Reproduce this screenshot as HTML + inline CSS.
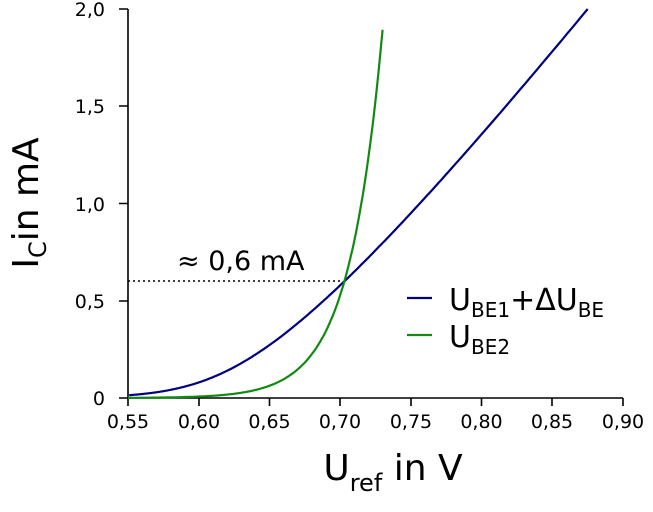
<!DOCTYPE html>
<html><head><meta charset="utf-8"><style>
body{margin:0;background:#fff;}
svg{display:block;font-family:"DejaVu Sans","Liberation Sans",sans-serif;}
</style></head><body>
<svg id="s" width="653" height="512" viewBox="0 0 653 512">
<g stroke="#000" stroke-width="1.6" fill="none">
<path d="M128,9 V398 H623"/>
<path d="M119,9H128M119,106H128M119,203.5H128M119,301H128M119,398H128"/>
<path d="M128,398v8M199,398v8M269.5,398v8M340,398v8M411,398v8M481.5,398v8M552,398v8M623,398v8"/>
</g>
<g font-size="19" text-anchor="end" fill="#000">
<text x="105" y="16">2,0</text><text x="105" y="113">1,5</text><text x="105" y="211">1,0</text><text x="105" y="308">0,5</text><text x="105" y="405">0</text>
</g>
<g font-size="19" text-anchor="middle" fill="#000">
<text x="128" y="428">0,55</text><text x="199" y="428">0,60</text><text x="269.5" y="428">0,65</text><text x="340" y="428">0,70</text><text x="411" y="428">0,75</text><text x="481.5" y="428">0,80</text><text x="552" y="428">0,85</text><text x="623" y="428">0,90</text>
</g>
<line x1="128" y1="281" x2="341" y2="281" stroke="#000" stroke-width="1.5" stroke-dasharray="2,3"/>
<text x="177" y="270" font-size="27">≈ 0,6 mA</text>
<path id="b" fill="none" stroke="#000080" stroke-width="2.2"/>
<path id="g" fill="none" stroke="#128a12" stroke-width="2.2"/>
<line x1="407" y1="298" x2="432" y2="298" stroke="#000080" stroke-width="2.2"/>
<line x1="407" y1="335" x2="432" y2="335" stroke="#128a12" stroke-width="2.2"/>
<text x="449" y="310" font-size="30">U<tspan font-size="20" dy="7">BE1</tspan><tspan dy="-7">+ΔU</tspan><tspan font-size="20" dy="7">BE</tspan></text>
<text x="449" y="347" font-size="30">U<tspan font-size="20" dy="7">BE2</tspan></text>
<text transform="translate(38,203) rotate(-90)" font-size="36" text-anchor="middle">I<tspan font-size="24" dy="8">C</tspan><tspan dy="-8">in mA</tspan></text>
<text x="393" y="480" font-size="36" text-anchor="middle">U<tspan font-size="24" dy="11">ref</tspan><tspan dy="-11"> in V</tspan></text>
</svg>
<script>
function px(v){return 128+(v-0.55)/0.05*70.71;}
function py(I){return 398-I*194.5;}
var d="";
for(var k=0;k<=300;k++){var I=0.0145*Math.pow(2/0.0145,k/300);var v=0.6548+0.0249*Math.log(I)+0.1015*I;d+=(d?"L":"M")+px(v).toFixed(1)+","+py(I).toFixed(1);}
document.getElementById('b').setAttribute('d',d);
var g="";
for(var v=0.55;v<=0.7301;v+=0.001){var I=0.6*Math.exp((v-0.703)/0.0235);g+=(g?"L":"M")+px(v).toFixed(1)+","+py(I).toFixed(1);}
document.getElementById('g').setAttribute('d',g);
</script>
</body></html>
